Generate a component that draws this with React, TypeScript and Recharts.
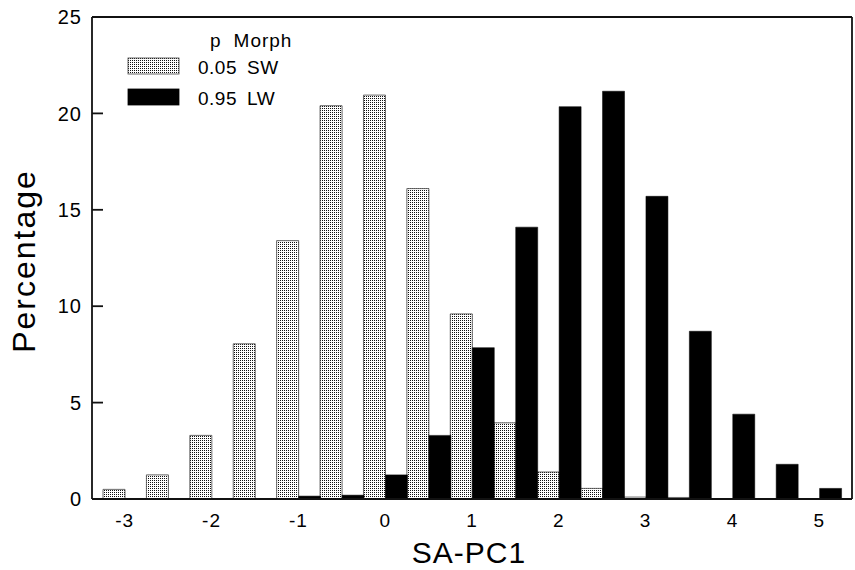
import React from "react";
import { BarChart, Bar, XAxis, YAxis } from "recharts";

// bin centres on SA-PC1
const categories = ["-3", "-2.5", "-2", "-1.5", "-1", "-0.5", "0", "0.5", "1", "1.5", "2", "2.5", "3", "3.5", "4", "4.5", "5"];
// percentage per bin
const swValues = [0.5, 1.25, 3.3, 8.05, 13.4, 20.4, 20.95, 16.1, 9.6, 3.95, 1.4, 0.55, 0.1, 0.08, 0, 0, 0];
const lwValues = [0, 0, 0, 0, 0.15, 0.2, 1.25, 3.3, 7.85, 14.1, 20.35, 21.15, 15.7, 8.7, 4.4, 1.8, 0.55];
const yTicks = [0, 5, 10, 15, 20, 25];
const legendItems = [
  { p: "0.05", morph: "SW", key: "sw" },
  { p: "0.95", morph: "LW", key: "lw" },
];

const data = categories.map((c, i) => ({ x: c, sw: swValues[i], lw: lwValues[i] }));

const FONT = "'Liberation Sans', Arial, Helvetica, sans-serif";
const W = 855;
const H = 570;
const YAXIS_W = 92;
const RIGHT_AXIS_W = 1;
const MARGIN = { top: 17, right: 2, left: 0, bottom: 0 };
const FRAME = { stroke: "#111", strokeWidth: 1.8 };

const swFill = "url(#stipple)";

const YTick = (props: any) => {
  const { x, y, payload } = props;
  return (
    <g>
      {payload.value !== 25 && payload.value !== 0 && (
        <line x1={x} x2={x + 11} y1={y} y2={y} stroke="#111" strokeWidth={1.8} />
      )}
      <text x={x - 10} y={y} dy="0.36em" textAnchor="end" fontSize={20} letterSpacing={1} fill="#000" fontFamily={FONT}>
        {payload.value}
      </text>
    </g>
  );
};

const XTick = (props: any) => {
  const { x, y, payload } = props;
  return (
    <text x={x} y={y + 28} textAnchor="middle" fontSize={19} letterSpacing={1} fill="#000" fontFamily={FONT}>
      {payload.value}
    </text>
  );
};

export default function App() {
  const plotLeft = MARGIN.left + YAXIS_W;
  const plotRight = W - MARGIN.right - RIGHT_AXIS_W;
  return (
    <div style={{ position: "absolute", left: 0, top: 0, width: W, height: H, background: "#fff" }}>
      <svg width={0} height={0} style={{ position: "absolute" }}>
        <defs>
          <pattern id="stipple" patternUnits="userSpaceOnUse" width={2} height={2}>
            <rect width={2} height={2} fill="#fff" />
            <rect x={0} y={0} width={1} height={1} fill="#111" />
          </pattern>
        </defs>
      </svg>
      <BarChart
        width={W}
        height={H}
        data={data}
        margin={MARGIN}
        barCategoryGap={0}
        barGap={0}
      >
        <XAxis
          dataKey="x"
          height={71}
          interval={1}
          padding={{ left: 11, right: 11 }}
          tickLine={false}
          tickSize={0}
          tickMargin={0}
          tick={<XTick />}
          axisLine={FRAME}
        />
        <YAxis
          width={YAXIS_W}
          domain={[0, 25]}
          ticks={yTicks}
          tickLine={false}
          tickSize={0}
          tickMargin={0}
          tick={<YTick />}
          axisLine={FRAME}
        />
        <YAxis
          yAxisId="right"
          orientation="right"
          width={RIGHT_AXIS_W}
          domain={[0, 25]}
          tick={false}
          tickLine={false}
          axisLine={FRAME}
        />
        <Bar dataKey="sw" fill={swFill} stroke="#444" strokeWidth={0.8} isAnimationActive={false} />
        <Bar dataKey="lw" fill="#000" stroke="#000" strokeWidth={0.5} isAnimationActive={false} />
      </BarChart>
      <svg width={W} height={H} style={{ position: "absolute", left: 0, top: 0, pointerEvents: "none" }}>
        {/* top edge of the frame */}
        <line x1={plotLeft} x2={plotRight} y1={MARGIN.top} y2={MARGIN.top} {...FRAME} />
        <text
          transform="translate(35, 261) rotate(-90)"
          textAnchor="middle"
          fontSize={32}
          letterSpacing={2}
          fontFamily={FONT}
          fill="#000"
        >
          Percentage
        </text>
        <text x={469} y={563} textAnchor="middle" fontSize={30} letterSpacing={1} fontFamily={FONT} fill="#000">
          SA-PC1
        </text>
        <text x={210} y={47} fontSize={19} letterSpacing={1} fontFamily={FONT} fill="#000">
          <tspan>p</tspan>
          <tspan dx={12}>Morph</tspan>
        </text>
        {legendItems.map((it, i) => (
          <g key={it.key}>
            <rect
              x={128}
              y={58 + i * 31}
              width={51}
              height={16}
              fill={it.key === "sw" ? swFill : "#000"}
              stroke={it.key === "sw" ? "#444" : "#000"}
              strokeWidth={0.8}
            />
            <text x={198} y={74 + i * 31} fontSize={19} letterSpacing={0.5} fontFamily={FONT} fill="#000">
              <tspan>{it.p}</tspan>
              <tspan dx={10}>{it.morph}</tspan>
            </text>
          </g>
        ))}
      </svg>
    </div>
  );
}
